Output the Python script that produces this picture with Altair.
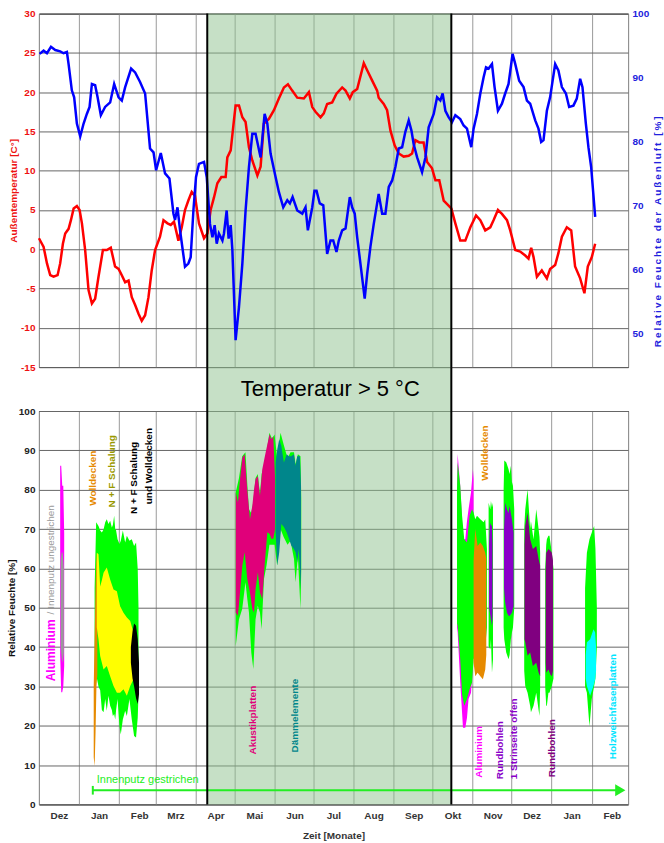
import altair as alt
import pandas as pd

# ---------------------------------------------------------------------------
# Time axis: days counted from 1 December, month boundaries and German names
# ---------------------------------------------------------------------------
MONTH_START = [0, 31, 62, 90, 121, 151, 182, 212, 243, 274, 304, 335, 365, 396, 427, 455]
MONTH_LABEL = ["Dez", "Jan", "Feb", "Mrz", "Apr", "Mai", "Jun", "Jul", "Aug", "Sep",
               "Okt", "Nov", "Dez", "Jan", "Feb", ""]
WARM_FROM, WARM_TO = 130, 318.5          # period with outdoor temperature > 5 °C

# Outdoor temperature [°C]
TEMP_DAY = [0, 3.6, 6.2, 8.7, 11.3, 14.4, 16.4, 18.5, 20.3, 22.9,
            24.7, 26.8, 29.3, 31.4, 33.2, 35.7, 38.3, 40.9, 43.4, 46.0,
            49.4, 52.4, 55.5, 58.8, 61.5, 64.0, 66.6, 69.2, 71.7, 74.3,
            76.9, 79.4, 82.0, 84.6, 87.1, 89.7, 93.5, 96.2, 99.3, 101.8,
            104.3, 105.9, 107.7, 110.3, 112.8, 115.4, 118.0, 120.5, 123.6, 127.5,
            130.1, 132.6, 135.2, 137.8, 140.9, 144.2, 145.5, 148.1, 150.6, 151.9,
            154.5, 157.1, 159.6, 162.2, 164.8, 168.7, 171.2, 173.7, 177.6, 181.5,
            185.3, 189.2, 192.3, 195.6, 199.5, 204.6, 208.5, 211.1, 213.6, 217.5,
            220.0, 222.6, 226.5, 229.8, 234.2, 236.8, 240.1, 242.4, 245.8, 250.9,
            253.5, 257.3, 261.2, 262.4, 266.3, 268.9, 271.5, 274.8, 277.9, 281.7,
            285.6, 288.2, 290.7, 293.8, 297.1, 299.8, 303.6, 306.2, 309.2, 312.6,
            318.5, 321.6, 325.4, 329.3, 333.2, 337.6, 340.9, 344.7, 348.6, 351.1,
            354.5, 357.6, 361.5, 364.0, 367.9, 371.7, 375.6, 378.1, 380.2, 382.0,
            384.6, 388.4, 392.3, 394.8, 398.7, 401.2, 403.9, 407.7, 411.1, 414.1,
            418.0, 421.3, 423.9, 427.0, 429.6]
TEMP_C = [1.4, 0.3, -1.8, -3.3, -3.5, -3.3, -1.8, 0.7, 2.0, 2.6,
          3.7, 5.2, 5.5, 5.0, 3.3, -0.1, -5.2, -6.9, -6.3, -3.5,
          -0.1, -0.1, 0.2, -2.2, -2.5, -3.3, -4.2, -4.0, -6.1, -7.1,
          -8.2, -9.1, -8.4, -6.1, -2.7, -0.1, 1.6, 3.7, 3.3, 3.1,
          3.5, 2.4, 1.1, 2.8, 5.0, 6.2, 7.3, 6.8, 3.3, 1.4,
          2.0, 5.0, 6.6, 8.4, 9.2, 9.2, 11.7, 12.6, 16.4, 18.3,
          18.3, 16.8, 16.2, 13.0, 11.3, 9.4, 10.5, 16.0, 16.6, 17.7,
          19.2, 20.6, 21.0, 20.2, 19.3, 19.2, 20.0, 18.1, 17.5, 16.8,
          17.3, 18.5, 18.7, 19.8, 20.6, 20.2, 19.2, 20.0, 20.4, 23.7,
          22.8, 21.5, 20.2, 19.3, 18.5, 17.7, 15.1, 13.2, 12.2, 11.8,
          11.9, 12.2, 13.9, 13.6, 13.6, 11.1, 10.3, 8.8, 8.8, 6.2,
          5.2, 3.3, 1.1, 1.1, 2.8, 4.3, 3.7, 2.4, 2.8, 3.7,
          5.0, 4.5, 3.7, 2.4, -0.1, -0.3, -0.8, -1.2, 0.2, -1.0,
          -3.5, -2.7, -3.7, -2.5, -2.0, -0.5, 1.6, 2.8, 2.4, -2.2,
          -3.7, -5.6, -2.2, -1.0, 0.7]

# Relative humidity of the outdoor air [%]
HUM_DAY = [0.5, 3.6, 6.2, 9.3, 12.6, 16.4, 19.0, 21.6, 22.9, 25.4,
           27.2, 29.3, 31.9, 34.5, 37.0, 39.1, 40.9, 43.4, 45.3, 47.8,
           51.1, 55.0, 58.1, 61.5, 64.0, 66.6, 71.2, 74.3, 78.1, 82.0,
           85.8, 88.5, 90.5, 94.1, 97.4, 100.8, 103.9, 105.1, 107.0, 109.0,
           112.8, 115.4, 117.2, 119.3, 121.3, 123.6, 127.5, 129.6, 132.1, 134.0,
           135.7, 137.3, 139.0, 141.7, 142.9, 145.0, 146.5, 148.1, 149.4, 151.9,
           154.5, 157.1, 159.6, 162.2, 164.8, 167.3, 171.2, 174.3, 176.4, 178.9,
           182.8, 185.3, 188.7, 191.8, 193.8, 195.9, 199.5, 203.4, 205.9, 207.7,
           211.1, 212.8, 214.4, 216.9, 219.6, 222.6, 225.2, 227.3, 229.8, 231.6,
           234.2, 236.8, 240.1, 241.9, 243.9, 245.8, 248.3, 251.6, 253.5, 256.0,
           258.6, 262.4, 265.1, 267.6, 270.2, 272.8, 275.3, 277.9, 280.5, 283.0,
           285.6, 287.7, 289.4, 292.1, 295.9, 298.5, 301.0, 304.9, 307.5, 310.0,
           311.8, 313.9, 316.4, 319.0, 321.6, 325.4, 328.0, 330.6, 333.9, 335.7,
           338.3, 340.9, 343.4, 345.3, 347.3, 349.9, 351.9, 354.5, 357.6, 360.1,
           362.7, 365.8, 367.9, 370.9, 374.3, 376.9, 379.4, 383.3, 385.8, 387.9,
           389.7, 392.3, 394.8, 398.7, 401.2, 403.9, 407.0, 409.5, 412.8, 415.4,
           418.0, 419.8, 422.4, 424.4, 426.5, 429.6]
HUM_PCT = [93.7, 94.2, 93.8, 94.8, 94.3, 94.1, 93.8, 94.0, 92.1, 88.0,
           86.9, 82.8, 80.8, 82.8, 84.3, 85.4, 89.0, 88.8, 86.9, 84.1,
           85.4, 86.1, 89.0, 86.9, 86.4, 88.5, 91.4, 90.8, 89.3, 87.5,
           78.9, 78.3, 75.5, 78.2, 75.0, 74.2, 68.7, 67.7, 69.7, 66.1,
           60.4, 60.9, 61.9, 69.2, 74.4, 76.5, 76.8, 74.4, 67.1, 65.0,
           66.9, 64.0, 65.6, 64.5, 65.6, 69.2, 64.8, 66.9, 63.0, 48.9,
           54.1, 60.9, 69.2, 76.0, 81.2, 81.2, 77.5, 84.3, 82.8, 78.1,
           74.4, 72.1, 69.7, 70.8, 70.3, 71.3, 69.2, 68.7, 69.7, 66.1,
           69.7, 72.3, 72.3, 70.3, 70.0, 62.4, 64.5, 64.5, 62.7, 64.5,
           66.1, 66.4, 71.3, 69.7, 68.7, 65.0, 60.9, 55.4, 59.3, 63.5,
           67.1, 71.8, 68.7, 68.7, 72.9, 73.9, 76.0, 78.9, 79.1, 81.5,
           83.3, 81.7, 79.6, 77.5, 75.2, 77.5, 82.2, 84.3, 86.9, 86.4,
           87.5, 84.8, 83.8, 83.0, 84.1, 83.5, 82.5, 82.0, 79.1, 82.0,
           84.3, 87.5, 90.0, 91.6, 91.4, 92.1, 88.5, 84.8, 85.9, 87.5,
           89.0, 93.7, 92.1, 89.5, 88.5, 86.4, 85.9, 83.3, 82.0, 79.9,
           80.2, 84.8, 86.9, 92.1, 91.1, 88.5, 87.5, 85.4, 85.6, 86.7,
           89.8, 88.5, 82.8, 79.1, 76.0, 68.2]

# ---------------------------------------------------------------------------
# Measured relative humidity ranges per test setup: (day, min %, max %)
# ---------------------------------------------------------------------------
ALU_DEZ = [(16.4, 38, 86.1), (17.2, 28.5, 86.1), (18.0, 28.5, 81), (18.8, 30, 81), (19.5, 35.2, 69)]
GRAU_DEZ = [(16.8, 40, 62), (17.6, 37, 64.1), (18.4, 36, 64), (19.2, 38.6, 60)]
ORANGE_JAN = [(42.3, 12, 30), (43.0, 9.7, 42), (43.7, 18, 55), (44.4, 30, 64), (45.1, 33, 60)]
GRUEN_JAN = [(43.0, 30, 55), (44.2, 33, 71.7), (46.0, 30, 70.8), (47.3, 29, 69.6), (48.6, 24, 69.1),
             (49.9, 23.4, 69.9), (51.2, 26.8, 71.7), (52.4, 23.8, 72.5), (53.7, 27.6, 71.3),
             (55.0, 25.1, 72.1), (56.3, 24, 70.4), (57.1, 22.5, 71), (58.1, 23, 73.4), (58.9, 21.6, 70),
             (59.6, 24, 69.6), (60.7, 26.8, 67.4), (62.2, 19.9, 66.2), (63.2, 17.8, 67.0),
             (64.8, 21.6, 69.6), (66.6, 23.8, 66.6), (67.9, 22.5, 68.3), (69.9, 26.8, 67.0),
             (71.7, 21.6, 67.4), (73.5, 17.4, 65.7), (75.0, 17.0, 66.6), (76.3, 22, 59.8), (76.9, 28, 50)]
GELB_JAN = [(44.7, 45, 64), (46.0, 42, 63.6), (47.3, 37.7, 55.4), (48.6, 36, 57), (49.9, 34.3, 58.9),
            (52.4, 35.2, 60.2), (55.0, 32.6, 57.2), (57.6, 30.1, 54.6), (60.2, 28.4, 54.2),
            (62.7, 28.4, 50.4), (65.3, 29.3, 48.7), (67.9, 27.6, 47.5), (70.5, 30.1, 46.6), (73.0, 31.8, 43.7)]
SCHWARZ_FEB = [(71.0, 36, 40), (72.3, 32, 44), (73.5, 30, 46), (75.0, 27, 45.4), (76.3, 25.5, 42), (77.3, 28, 36)]
GRUEN_MAI = [(152.0, 40.3, 79.3), (154.5, 47.1, 83), (157.0, 49.7, 88.5), (159.5, 56.5, 89.5),
             (161.0, 52, 81), (162.2, 48.8, 75), (164.0, 38.6, 74), (165.6, 34.4, 77), (167.3, 47.1, 83),
             (169.0, 50.5, 84), (170.7, 48.8, 79), (172.0, 44.5, 84), (173.8, 57.3, 86),
             (175.8, 60.7, 89.5), (178.0, 66, 94.5), (180.0, 66, 93), (182.0, 66, 94), (184.0, 60.7, 88),
             (186.6, 70, 94.5), (189.0, 68, 91.5), (192.0, 66, 88), (194.3, 67, 89.5), (197.0, 62.4, 89.5),
             (198.2, 56.5, 86.5), (200.0, 63, 89), (202.0, 49.7, 88.5), (202.6, 60, 78)]
AKUSTIK = [(152.0, 48.8, 79.3), (153.7, 47.9, 76.8), (155.3, 53.9, 82.7), (157.1, 60.7, 88.2),
           (158.9, 64.1, 89), (160.9, 57.3, 80.1), (163.0, 53.9, 72.5), (164.8, 49.7, 75.9),
           (166.1, 48.8, 80), (167.3, 54.7, 82.7), (169.1, 59, 83.5), (170.7, 53.9, 78.4),
           (172.5, 52.2, 85.2), (174.3, 60.7, 88.2), (176.4, 69.2, 91.5), (178.1, 68.8, 94.1),
           (179.5, 67.5, 92.8), (181.0, 67.5, 93.6), (182.4, 70, 82.7)]
DAEMM = [(182.8, 69.2, 86.9), (184.1, 60.7, 90.3), (185.6, 64.1, 92.8), (187.2, 71.3, 91.1),
         (189.2, 70.5, 86.9), (191.3, 69.2, 89), (193.1, 67.5, 88.5), (194.9, 65.8, 88.5),
         (196.9, 64.9, 89), (198.2, 64.1, 86.1), (199.5, 61.5, 88.5), (200.7, 64.9, 88.5),
         (201.5, 60, 88.5), (202.4, 54.7, 80.9)]
ALU_OKT = [(322.9, 45, 80), (323.4, 43.7, 89.1), (325.4, 31, 81), (327.5, 19.5, 67.4), (329.3, 19.5, 67.4),
           (330.6, 22, 72), (331.8, 26.8, 75), (333.7, 28.4, 79.3), (335.2, 35.2, 85.2), (335.7, 40, 82.7)]
GRUEN_OKT = [(322.9, 46, 80), (323.4, 45.4, 87), (325.4, 36.9, 81), (326.8, 28, 73.4), (328.5, 25.1, 67.4),
             (330.6, 26.8, 66.6), (332.6, 29.3, 73.4), (334.5, 31, 75), (335.7, 36.9, 74.2),
             (337.0, 38, 72.5), (338.3, 38, 73.4), (340.9, 40, 72.5), (343.4, 40, 71.7),
             (344.7, 40, 72.5), (346.0, 45, 65)]
WOLLE_OKT = [(335.7, 36, 62), (337.0, 32.6, 70), (338.8, 33.5, 65.7), (340.9, 32.6, 66.6),
             (342.9, 31.8, 65.7), (344.7, 34.3, 64), (345.5, 38, 62.4)]
GRUEN_NOV1 = [(347.3, 40.3, 76.7), (348.6, 39.4, 75), (349.1, 42, 77.1), (349.9, 33.5, 75.5), (350.7, 36.9, 76.7)]
RUND_NOV1 = [(347.6, 50, 66), (348.3, 48.7, 71.7), (349.1, 47, 71), (349.9, 45.4, 70.8), (350.3, 48, 66)]
GRUEN_NOV2 = [(358.9, 45, 80), (359.4, 42, 87.4), (360.9, 38.6, 87), (362.7, 36.9, 85.2), (363.5, 38, 84),
              (364.5, 42, 86.1), (365.3, 43.7, 82), (366.1, 45, 81), (367.1, 50, 75)]
RUND_NOV2 = [(359.2, 55, 70), (360.1, 51.3, 76.7), (361.5, 48.7, 75), (362.6, 48, 74), (363.5, 47.9, 75.9),
             (365.3, 48.7, 72.5), (366.6, 50.4, 69.1)]
GRUEN_DEZ1 = [(374.8, 34, 70), (375.6, 30.1, 75), (377.4, 28.4, 80.1), (379.4, 25, 70), (380.0, 23.4, 72),
              (382.0, 25.1, 67.4), (384.1, 28.4, 75), (385.9, 24, 70), (386.6, 22.5, 68), (387.1, 30, 64)]
RUND_DEZ1 = [(375.0, 42, 66), (375.6, 41.2, 70.8), (377.4, 37.8, 74.2), (379.4, 38.6, 67.4),
             (381.5, 35.2, 64.9), (384.1, 36, 65.7), (385.9, 33.5, 62.4), (387.1, 32.6, 60.7)]
GRUEN_DEZ2 = [(391.0, 30, 60), (391.8, 25.1, 66), (392.3, 25.1, 67.4), (393.5, 28.4, 68.3),
              (394.3, 28.4, 68.3), (396.1, 30.1, 64), (397.4, 32, 60)]
RUND_DEZ2 = [(391.4, 36, 60), (391.8, 33.5, 64), (393.5, 34.3, 64.9), (395.0, 33, 64.5),
             (396.1, 32.6, 64), (397.0, 34, 62)]
GRUEN_JAN2 = [(421.8, 30, 55), (423.2, 28.4, 64), (425.2, 19.9, 67.4), (427.0, 26.8, 69.1),
              (428.8, 30.1, 70.8), (429.8, 32, 65), (430.9, 40, 50)]
HOLZ_JAN = [(422.3, 32, 38), (423.2, 30.1, 41.2), (425.7, 27.6, 42), (428.3, 30.1, 44.5),
            (429.6, 31.8, 43.7), (430.3, 34, 40)]

SERIES_COLOR = {
    "gruen": "#00ff00", "gelb": "#ffff00", "schwarz": "#000000", "orange": "#e68a00",
    "magenta": "#ff00ff", "grau": "#9a9a9a", "pink": "#e0007a", "petrol": "#00868b",
    "violett": "#8a00c8", "lila": "#800080", "cyan": "#00ffff",
}

# (block, series colour, drawing rank, samples)
BANDS = [
    ("alu_dez", "magenta", 0, ALU_DEZ), ("alu_okt", "magenta", 0, ALU_OKT),
    ("gr_jan", "gruen", 1, GRUEN_JAN), ("gr_mai", "gruen", 1, GRUEN_MAI), ("gr_okt", "gruen", 1, GRUEN_OKT),
    ("gr_nov1", "gruen", 1, GRUEN_NOV1), ("gr_nov2", "gruen", 1, GRUEN_NOV2),
    ("gr_dez1", "gruen", 1, GRUEN_DEZ1), ("gr_dez2", "gruen", 1, GRUEN_DEZ2), ("gr_jan2", "gruen", 1, GRUEN_JAN2),
    ("grau_dez", "grau", 2, GRAU_DEZ), ("or_jan", "orange", 2, ORANGE_JAN), ("gelb_jan", "gelb", 2, GELB_JAN),
    ("akustik", "pink", 2, AKUSTIK), ("daemm", "petrol", 2, DAEMM), ("wolle_okt", "orange", 2, WOLLE_OKT),
    ("rund_nov1", "violett", 2, RUND_NOV1), ("rund_nov2", "violett", 2, RUND_NOV2),
    ("rund_dez1", "lila", 2, RUND_DEZ1), ("rund_dez2", "lila", 2, RUND_DEZ2), ("holz", "cyan", 2, HOLZ_JAN),
    ("schwarz_feb", "schwarz", 3, SCHWARZ_FEB),
]

# Vertical labels: text, colour, day, value at the lower end, weight, size
NOTES = [
    ("Aluminium", "#ff00ff", 9.3, 31.3, "bold", 12),
    ("/ Innenputz ungestrichen", "#999999", 9.3, 48.3, "normal", 10),
    ("Wolldecken", "#e68a00", 41.6, 75.9, "bold", 10),
    ("N + F Schalung", "#999900", 56.7, 75.5, "bold", 10),
    ("N + F Schalung", "#000000", 73.3, 73.8, "bold", 10),
    ("und Wolldecken", "#000000", 84.8, 76.3, "bold", 10),
    ("Akustikplatten", "#e0007a", 165.6, 12.7, "bold", 10),
    ("Dämmelemente", "#00868b", 197.7, 13.2, "bold", 10),
    ("Wolldecken", "#e68a00", 344.7, 82.3, "bold", 10),
    ("Aluminium", "#ff00ff", 340.1, 6.8, "bold", 10),
    ("Rundbohlen", "#8a00c8", 356.3, 6.4, "bold", 10),
    ("1 Strinseite offen", "#8a00c8", 367.1, 6.4, "bold", 10),
    ("Rundbohlen", "#800080", 396.2, 6.9, "bold", 10),
    ("Holzweichfaserplatten", "#00e5ff", 443.7, 11.5, "bold", 10),
]

# ---------------------------------------------------------------------------
FONT = "Liberation Sans, Arial, sans-serif"
W, H_TOP, H_MID, H_BOT = 590, 354, 44, 394
WARM_FILL = "#8dc18d"


def spaced(text):
    """Widen a title with thin spaces between the letters."""
    return "\u2009".join(text)


x_scale = alt.Scale(domain=[0, 455], nice=False, zero=False)
month_expr = ("[" + ",".join(f"'{m}'" for m in MONTH_LABEL) + "][indexof(["
              + ",".join(str(v) for v in MONTH_START) + "], datum.value)]")

axis_x_plain = alt.Axis(values=MONTH_START, labels=False, ticks=False, domain=False,
                        grid=True, gridColor="#9a9a9a", title=None)
axis_x_months = alt.Axis(values=MONTH_START, labelExpr=month_expr, labelOffset=20, labelFlush=False,
                         labelOverlap=False, ticks=False, domain=False, grid=True, gridColor="#9a9a9a",
                         labelFont=FONT, labelFontWeight="bold", labelFontSize=10, labelColor="#333333",
                         labelPadding=6, title="Zeit [Monate]", titleFont=FONT, titleFontWeight="bold",
                         titleFontSize=10, titleColor="#333333", titlePadding=10)

warm = pd.DataFrame({"von": [WARM_FROM], "bis": [WARM_TO]})
edges = pd.DataFrame({"tag": [WARM_FROM, WARM_TO]})
temp_df = pd.DataFrame({"tag": TEMP_DAY, "temp": TEMP_C})
hum_df = pd.DataFrame({"tag": HUM_DAY, "feuchte": HUM_PCT})


def warm_rect(axis, height):
    return alt.Chart(warm).mark_rect(color=WARM_FILL, opacity=0.5).encode(
        x=alt.X("von:Q", scale=x_scale, axis=axis), x2="bis:Q",
        y=alt.value(0), y2=alt.value(height))


def edge_rules(axis):
    return alt.Chart(edges).mark_rule(color="black", strokeWidth=2).encode(
        x=alt.X("tag:Q", scale=x_scale, axis=axis))


# --- top panel: outdoor climate ------------------------------------------
temp_line = alt.Chart(temp_df).mark_line(color="#ff0000", strokeWidth=2.5).encode(
    x=alt.X("tag:Q", scale=x_scale, axis=axis_x_plain),
    y=alt.Y("temp:Q", scale=alt.Scale(domain=[-15, 30], nice=False, zero=False),
            axis=alt.Axis(values=list(range(-15, 31, 5)), labelExpr="'' + datum.value", ticks=False,
                          domain=False, grid=True, gridColor="#666666", labelColor="#ee1111",
                          labelFont=FONT, labelFontWeight="bold", labelFontSize=10, labelPadding=4,
                          title="Außentemperatur [C°]", titleColor="#ee1111", titleFont=FONT,
                          titleFontWeight="bold", titleFontSize=10, titlePadding=2)))
hum_line = alt.Chart(hum_df).mark_line(color="#0000ff", strokeWidth=2.5).encode(
    x=alt.X("tag:Q", scale=x_scale, axis=axis_x_plain),
    y=alt.Y("feuchte:Q", scale=alt.Scale(domain=[44.7, 100], nice=False, zero=False),
            axis=alt.Axis(orient="right", values=list(range(50, 101, 10)), ticks=False, domain=False,
                          grid=False, labelColor="#2222dd", labelFont=FONT, labelFontWeight="bold",
                          labelFontSize=10, labelPadding=4,
                          title=spaced("Relative Feuchte der Außenluft [%]"), titleColor="#2222dd",
                          titleFont=FONT, titleFontWeight="bold", titleFontSize=10,
                          titleAngle=270, titleBaseline="top", titlePadding=4, titleY=218)))

top = alt.layer(warm_rect(axis_x_plain, H_TOP), temp_line, hum_line, edge_rules(axis_x_plain)) \
    .resolve_scale(y="independent").properties(width=W, height=H_TOP)

# --- middle strip --------------------------------------------------------
strip_text = alt.Chart(pd.DataFrame({"tag": [225], "txt": ["Temperatur > 5 °C"]})).mark_text(
    font=FONT, fontSize=22, color="black", baseline="middle").encode(
    x=alt.X("tag:Q", scale=x_scale, axis=None), y=alt.value(H_MID / 2), text="txt:N")
mid = alt.layer(warm_rect(None, H_MID), edge_rules(None), strip_text).properties(
    width=W, height=H_MID, view=alt.ViewBackground(stroke=None))

# --- bottom panel: humidity inside the test setups ------------------------
rows = []
for block, serie, rank, samples in BANDS:
    for tag, lo, hi in samples:
        rows.append({"block": block, "serie": serie, "rang": rank, "tag": tag, "lo": lo, "hi": hi})
bands = pd.DataFrame(rows)

y_bot = alt.Scale(domain=[0, 100], nice=False, zero=False)
axis_y_bot = alt.Axis(values=list(range(0, 101, 10)), ticks=False, domain=False, grid=True,
                      gridColor="#666666", labelColor="#222222", labelFont=FONT, labelFontWeight="bold",
                      labelFontSize=10, labelPadding=4, title="Relative Feuchte [%]",
                      titleColor="#111111", titleFont=FONT, titleFontWeight="bold", titleFontSize=10,
                      titlePadding=2)
color_scale = alt.Scale(domain=list(SERIES_COLOR), range=list(SERIES_COLOR.values()))


def band_layer(rank):
    return alt.Chart(bands[bands["rang"] == rank]).mark_area(interpolate="linear").encode(
        x=alt.X("tag:Q", scale=x_scale, axis=axis_x_months),
        y=alt.Y("hi:Q", scale=y_bot, axis=axis_y_bot, stack=None), y2="lo:Q",
        color=alt.Color("serie:N", scale=color_scale, legend=None),
        detail="block:N")


notes = pd.DataFrame(NOTES, columns=["txt", "farbe", "tag", "wert", "gewicht", "groesse"])


def note_layer(weight):
    return alt.Chart(notes[notes["gewicht"] == weight]).mark_text(
        font=FONT, fontWeight=weight, angle=270, align="left", baseline="middle").encode(
        x=alt.X("tag:Q", scale=x_scale, axis=axis_x_months),
        y=alt.Y("wert:Q", scale=y_bot, axis=axis_y_bot),
        text="txt:N", color=alt.Color("farbe:N", scale=None),
        size=alt.Size("groesse:Q", scale=None))


# painted inner plaster: from early January to the end of the record
ARROW_FROM, ARROW_TO, ARROW_LEVEL = 41.6, 449.0, 3.6
LIME = "#22ee22"
arrow_df = pd.DataFrame({"von": [ARROW_FROM], "bis": [ARROW_TO], "wert": [ARROW_LEVEL],
                         "lo": [ARROW_LEVEL - 1.1], "hi": [ARROW_LEVEL + 1.1]})
arrow_line = alt.Chart(arrow_df).mark_rule(color=LIME, strokeWidth=2).encode(
    x=alt.X("von:Q", scale=x_scale, axis=axis_x_months), x2="bis:Q",
    y=alt.Y("wert:Q", scale=y_bot, axis=axis_y_bot))
arrow_start = alt.Chart(arrow_df).mark_rule(color=LIME, strokeWidth=2).encode(
    x=alt.X("von:Q", scale=x_scale, axis=axis_x_months),
    y=alt.Y("lo:Q", scale=y_bot, axis=axis_y_bot), y2="hi:Q")
arrow_head = alt.Chart(arrow_df).mark_point(shape="triangle-right", filled=True, color=LIME,
                                            size=140, opacity=1).encode(
    x=alt.X("bis:Q", scale=x_scale, axis=axis_x_months),
    y=alt.Y("wert:Q", scale=y_bot, axis=axis_y_bot))
arrow_text = alt.Chart(pd.DataFrame({"tag": [44.7], "wert": [6.1], "txt": ["Innenputz gestrichen"]})) \
    .mark_text(font=FONT, fontSize=11, color=LIME, align="left", baseline="middle").encode(
    x=alt.X("tag:Q", scale=x_scale, axis=axis_x_months),
    y=alt.Y("wert:Q", scale=y_bot, axis=axis_y_bot), text="txt:N")

bottom = alt.layer(
    warm_rect(axis_x_months, H_BOT),
    band_layer(0), band_layer(1), band_layer(2), band_layer(3),
    arrow_line, arrow_start, arrow_head, arrow_text,
    note_layer("bold"), note_layer("normal"),
    edge_rules(axis_x_months),
).properties(width=W, height=H_BOT)

chart = alt.vconcat(top, mid, bottom, spacing=0, bounds="flush").properties(
    padding={"left": 5, "top": 7, "right": 0, "bottom": 0},
    background="white",
).configure_view(stroke="black", strokeWidth=1)

chart.save("out.html", embed_options={"renderer": "svg", "actions": False})
